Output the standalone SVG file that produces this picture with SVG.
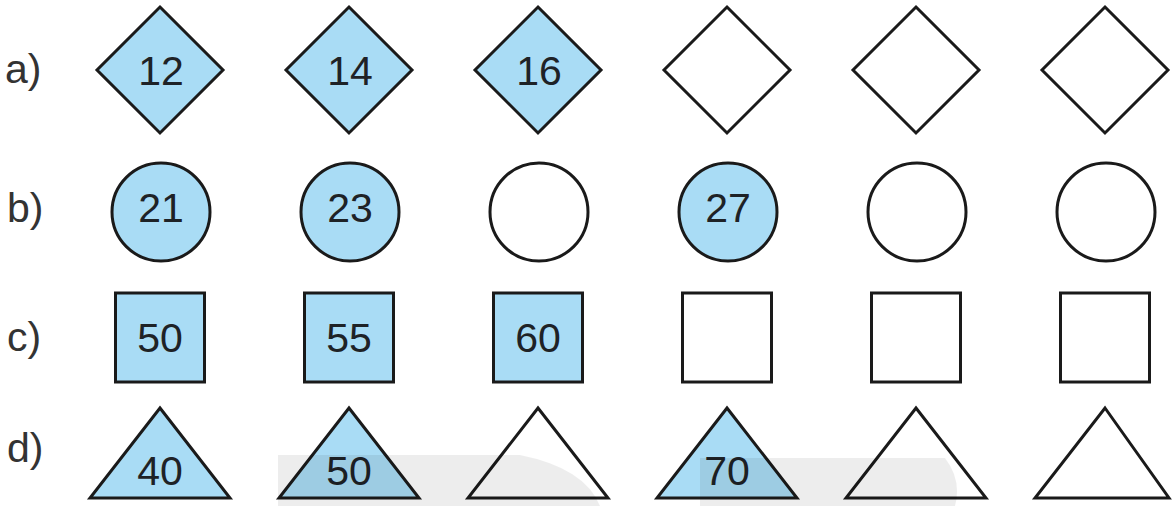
<svg xmlns="http://www.w3.org/2000/svg" width="1172" height="506" viewBox="0 0 1172 506">
<style>
.lbl{font-family:"Liberation Sans",Arial,sans-serif;font-size:41px;fill:#333}
.num{font-family:"Liberation Sans",Arial,sans-serif;font-size:41px;fill:#1e2226;text-anchor:middle}
.f{fill:#a9dcf5;stroke:#1a1a1a;stroke-width:3;stroke-linejoin:miter}
.e{fill:#fff;stroke:#1a1a1a;stroke-width:3;stroke-linejoin:miter}
.wm{fill:#000;opacity:0.07}
</style>
<rect width="1172" height="506" fill="#fff"/>
<g id="labels">
<text class="lbl" x="5" y="83">a)</text>
<text class="lbl" x="7" y="222">b)</text>
<text class="lbl" x="7" y="351">c)</text>
<text class="lbl" x="7" y="462">d)</text>
</g>
<g id="row-a">
<g id="a1"><polygon class="f" points="160,7 223,70 160,133 97,70"/><text class="num" x="161" y="85">12</text></g>
<g id="a2"><polygon class="f" points="349,7 412,70 349,133 286,70"/><text class="num" x="350" y="85">14</text></g>
<g id="a3"><polygon class="f" points="538,7 601,70 538,133 475,70"/><text class="num" x="539" y="85">16</text></g>
<g id="a4"><polygon class="e" points="727,7 790,70 727,133 664,70"/></g>
<g id="a5"><polygon class="e" points="916,7 979,70 916,133 853,70"/></g>
<g id="a6"><polygon class="e" points="1105,7 1168,70 1105,133 1042,70"/></g>
</g>
<g id="row-b">
<g id="b1"><circle class="f" cx="161" cy="212" r="49"/><text class="num" x="161" y="222">21</text></g>
<g id="b2"><circle class="f" cx="350" cy="212" r="49"/><text class="num" x="350" y="222">23</text></g>
<g id="b3"><circle class="e" cx="539" cy="212" r="49"/></g>
<g id="b4"><circle class="f" cx="728" cy="212" r="49"/><text class="num" x="728" y="222">27</text></g>
<g id="b5"><circle class="e" cx="917" cy="212" r="49"/></g>
<g id="b6"><circle class="e" cx="1106" cy="212" r="49"/></g>
</g>
<g id="row-c">
<g id="c1"><rect class="f" x="115.5" y="293" width="89" height="89"/><text class="num" x="160" y="352">50</text></g>
<g id="c2"><rect class="f" x="304.5" y="293" width="89" height="89"/><text class="num" x="349" y="352">55</text></g>
<g id="c3"><rect class="f" x="493.5" y="293" width="89" height="89"/><text class="num" x="538" y="352">60</text></g>
<g id="c4"><rect class="e" x="682.5" y="293" width="89" height="89"/></g>
<g id="c5"><rect class="e" x="871.5" y="293" width="89" height="89"/></g>
<g id="c6"><rect class="e" x="1060.5" y="293" width="89" height="89"/></g>
</g>
<g id="row-d">
<g id="d1"><polygon class="f" points="160,408 230,498 90,498"/><text class="num" x="160" y="485">40</text></g>
<g id="d2"><polygon class="f" points="349,408 419,498 279,498"/><text class="num" x="349" y="485">50</text></g>
<g id="d3"><polygon class="e" points="538,408 608,498 468,498"/></g>
<g id="d4"><polygon class="f" points="727,408 797,498 657,498"/><text class="num" x="727" y="485">70</text></g>
<g id="d5"><polygon class="e" points="916,408 986,498 846,498"/></g>
<g id="d6"><polygon class="e" points="1105,408 1169,498 1035,498"/></g>
</g>
<g id="watermark">
<path class="wm" d="M278,455 L520,455 Q585,468 600,506 L278,506 Z"/>
<path class="wm" d="M700,458 L945,458 Q962,480 955,506 L700,506 Z"/>
</g>
</svg>
